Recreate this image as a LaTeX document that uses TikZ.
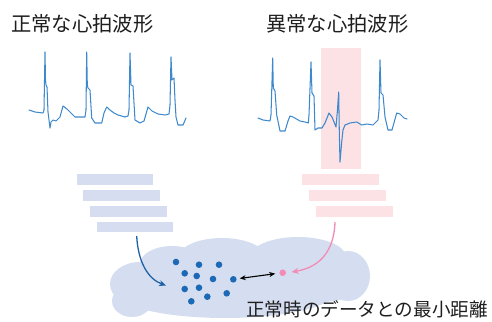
\documentclass[tikz,border=0pt]{standalone}
\usepackage{fontspec}
\newfontfamily\jpfont{Noto Sans CJK JP}
\usetikzlibrary{arrows.meta}
\definecolor{ecgblue}{RGB}{62,136,204}
\definecolor{barblue}{RGB}{214,221,240}
\definecolor{barpink}{RGB}{252,226,229}
\definecolor{cloudblue}{RGB}{213,222,240}
\definecolor{dotblue}{RGB}{28,106,182}
\definecolor{arrblue}{RGB}{30,98,165}
\definecolor{pinkarr}{RGB}{242,140,182}
\definecolor{txt}{RGB}{30,30,30}
\tikzset{
  ecg/.style={draw=ecgblue, line width=1.05pt, line join=round, line cap=round},
  bdot/.style={circle, fill=dotblue, inner sep=0pt, minimum size=6.6pt},
  pdot/.style={circle, fill=pinkarr, inner sep=0pt, minimum size=6.6pt},
  title/.style={font=\jpfont\fontsize{20.3pt}{24pt}\selectfont, text=txt, inner sep=0pt, anchor=west},
  label/.style={font=\jpfont\fontsize{18.6pt}{22pt}\selectfont, text=txt, inner sep=0pt, anchor=west},
}
\begin{document}
\begin{tikzpicture}[x=1pt, y=-1pt]
\useasboundingbox (0,0) rectangle (492,321);
\fill[white] (0,0) rectangle (492,321);
% titles
\node[title] (t1) at (11,24) {正常な心拍波形};
\node[title] (t2) at (266,24) {異常な心拍波形};
% pink highlight
\fill[barpink] (321,48) rectangle (360.5,168.5);
% normal ECG
\draw[ecg] (29,110) -- (35,112) -- (43,113) -- (44,110) -- (45,52) -- (45.5,80) -- (46,85) -- (47,87) -- (48,112) -- (50,128) -- (51,122) -- (53,120) -- (56,121) -- (60,117) -- (63,106) -- (67,109) -- (72,114) -- (75,117) -- (80,117) -- (85,117) -- (86,110) -- (86.7,52) -- (87.3,85) -- (88,88) -- (90,90) -- (91.7,118) -- (95,123) -- (101.7,123) -- (104,113) -- (106.7,107) -- (110,110) -- (114,113) -- (118,115) -- (125,117) -- (128,116) -- (129,110) -- (130,53) -- (131,85) -- (133,86) -- (135,120) -- (140,123) -- (144,121) -- (148,107) -- (152,111) -- (158,114) -- (165,115) -- (169,114) -- (170,105) -- (171,57) -- (172,80) -- (174,78) -- (175,100) -- (176,117) -- (178,125) -- (183,125) -- (186,118);
% abnormal ECG
\draw[ecg] (258,118) -- (263,120) -- (270,121) -- (271,115) -- (272.7,58) -- (273.3,88) -- (275,91) -- (276.7,115) -- (280,131) -- (285,131) -- (288,121) -- (290,116) -- (293,117) -- (300,121) -- (305,122) -- (308.3,123) -- (309,115) -- (311,62) -- (312,93) -- (314,96) -- (315,130) -- (318,128) -- (322,128) -- (325,123) -- (329,113) -- (332,117) -- (334,122) -- (336,127) -- (337.3,112) -- (338.7,92) -- (339.3,132) -- (340,162) -- (341.7,142) -- (343,130) -- (345,125) -- (350,123) -- (356.7,122) -- (361.7,125) -- (367,124) -- (373,125) -- (378,120) -- (379,110) -- (380,60) -- (381,93) -- (383,95) -- (385,117) -- (388,130) -- (392,130) -- (396.7,113) -- (400,114) -- (404,118) -- (407,119);
% blue bars
\fill[barblue] (76.7,174) rectangle (153.3,185);
\fill[barblue] (83.3,190) rectangle (160,200.7);
\fill[barblue] (90,206) rectangle (166.7,216.7);
\fill[barblue] (96.7,221.7) rectangle (173.3,232.3);
% pink bars
\fill[barpink] (302.3,174) rectangle (379.3,185);
\fill[barpink] (309.3,190) rectangle (386,200.7);
\fill[barpink] (316,206) rectangle (392.7,216.7);
% cloud
\begin{scope}[cloudblue]
\fill (140,284) ellipse [x radius=30, y radius=22];
\fill (172,264) ellipse [x radius=32, y radius=18];
\fill (222,258) ellipse [x radius=44, y radius=20];
\fill (298,257) ellipse [x radius=48, y radius=20];
\fill (348,276) ellipse [x radius=22, y radius=25];
\fill (225,292) ellipse [x radius=110, y radius=26];
\fill (318,290) ellipse [x radius=40, y radius=12];
\fill (132,301) ellipse [x radius=20, y radius=16];
\fill (235,282) ellipse [x radius=115, y radius=30];
\end{scope}
% dots
\node[bdot] (d1) at (176,262) {};
\node[bdot] (d2) at (199,264.7) {};
\node[bdot] (d3) at (219,264.7) {};
\node[bdot] (d4) at (184.7,273.3) {};
\node[bdot] (d5) at (196.7,276) {};
\node[bdot] (d6) at (213,279) {};
\node[bdot] (d7) at (233.3,279.3) {};
\node[bdot] (d8) at (184.7,289) {};
\node[bdot] (d9) at (199,287.7) {};
\node[bdot] (d10) at (226.7,293.3) {};
\node[bdot] (d11) at (207.3,296.7) {};
\node[bdot] (d12) at (191.3,301.3) {};
\node[pdot] (p) at (282.7,272.7) {};
% arrows
\coordinate (bs) at (136.7,236);
\coordinate (be) at (166,285.5);
\draw[arrblue, line width=1.3pt, -{Stealth[length=7pt,width=6pt]}] (bs) .. controls (138,262) and (148,279) .. (be);
\coordinate (ps) at (335,222);
\coordinate (pe) at (291.5,272);
\draw[pinkarr, line width=1.3pt, -{Stealth[length=7pt,width=6pt]}] (ps) .. controls (334,255) and (316,268) .. (pe);
\draw[black, line width=1.1pt, {Stealth[length=6pt,width=5pt]}-{Stealth[length=6pt,width=5pt]}, shorten <=3pt, shorten >=4pt] (d7) -- (p);
% label
\node[label] (lab) at (246,309) {正常時のデータとの最小距離};
\end{tikzpicture}
\end{document}
